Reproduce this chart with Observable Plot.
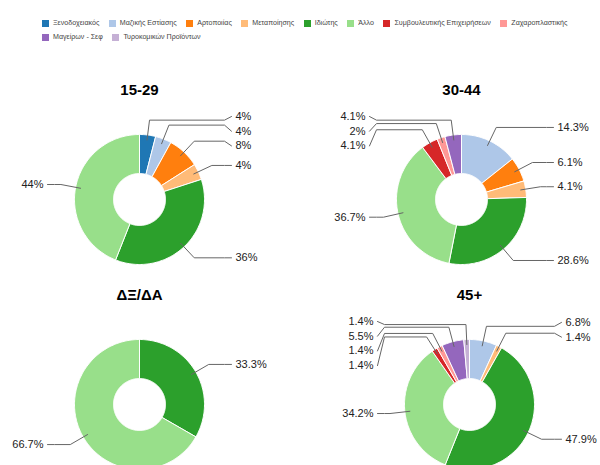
<!DOCTYPE html>
<html><head><meta charset="utf-8">
<script src="https://cdn.jsdelivr.net/npm/d3@7"></script>
<script src="https://cdn.jsdelivr.net/npm/@observablehq/plot@0.6"></script>
<style>
html,body{margin:0;padding:0;background:#fff;overflow:hidden;}
#legend{height:44px;box-sizing:border-box;padding:16px 0 0 42px;width:600px;overflow:hidden;}
#legend .lg-swatches{font-family:"Liberation Sans",Arial,sans-serif;font-size:7.1px;color:#444;margin:0;width:545px;}
#legend .lg-swatches-wrap{min-height:0;}
#legend .lg-swatch{height:14px;margin-right:9.5px;}
#legend .lg-swatch > svg{margin-right:4px;}
</style></head><body>
<div id="legend"></div><div id="chart"></div>
<script>
// ---- data ----
const categories = ["Ξενοδοχειακός","Μαζικής Εστίασης","Αρτοποιίας","Μεταποίησης","Ιδιώτης","Άλλο","Συμβουλευτικής Επιχειρήσεων","Ζαχαροπλαστικής","Μαγείρων - Σεφ","Τυροκομικών Προϊόντων"];
const colors = ["#1f77b4","#aec7e8","#ff7f0e","#ffbb78","#2ca02c","#98df8a","#d62728","#ff9896","#9467bd","#c5b0d5"];
const groups = ["15-29","30-44","ΔΞ/ΔΑ","45+"];
const values1529 = [4, 4, 8, 4, 36, 44, 0, 0, 0, 0];
const values3044 = [0, 14.3, 6.1, 4.1, 28.6, 36.7, 4.1, 2, 4.1, 0];
const valuesDXDA = [0, 0, 0, 0, 33.3, 66.7, 0, 0, 0, 0];
const values45 = [0, 6.8, 0, 1.4, 47.9, 34.2, 1.4, 1.4, 5.5, 1.4];
const series = [values1529, values3044, valuesDXDA, values45];

// ---- layout ----
const W = 600, H = 421;
const centers = [[139,155],[461,155],[139,360],[469,360]];
const R = 65, R0 = 26, RA = 60, RE = 80, SP = 14.7;
const fmt = d3.format(".1~f");

const slices = [], leaders = [], labels = [], titles = [];

function spread(list, minY, maxY, sp){
  list.sort((a,b)=>a.want-b.want);
  const cl = list.map(d=>({items:[d], sum:d.want}));
  const place = c => {
    const n = c.items.length;
    let top = c.sum/n - (n-1)*sp/2;
    top = Math.min(top, maxY-(n-1)*sp);
    top = Math.max(minY, top);
    c.top = top;
  };
  cl.forEach(place);
  let merged = true;
  while (merged) {
    merged = false;
    for (let i=0;i<cl.length-1;i++){
      const a=cl[i], b=cl[i+1];
      if (a.top+(a.items.length-1)*sp+sp > b.top){
        a.items.push(...b.items); a.sum += b.sum; place(a); cl.splice(i+1,1); merged = true; break;
      }
    }
  }
  cl.forEach(c=>c.items.forEach((d,j)=>d.y=c.top+j*sp));
}

groups.forEach((g,gi)=>{
  const vals = series[gi];
  const data = categories.map((c,i)=>({c, v: vals[i]})).filter(d=>d.v>0);
  const total = d3.sum(data, d=>d.v);
  const arcs = d3.pie().sort(null).value(d=>d.v)(data);
  const [cx,cy] = centers[gi];
  const pt = (r,a)=>[cx+r*Math.sin(a), cy-r*Math.cos(a)];
  titles.push({g, x:cx, y:cy-109});
  arcs.forEach(a=>{
    const key = g+"|"+a.data.c;
    const span = a.endAngle-a.startAngle;
    const n = Math.max(2, Math.ceil(span/0.02));
    const pts = [];
    for (let i=0;i<=n;i++) pts.push(pt(R, a.startAngle+span*i/n));
    for (let i=n;i>=0;i--) pts.push(pt(R0, a.startAngle+span*i/n));
    pts.push(pts[0]);
    pts.forEach(([x,y])=>slices.push({key, cat:a.data.c, x, y}));
  });
  const items = arcs.map(a=>{
    const m = (a.startAngle+a.endAngle)/2;
    const A = pt(RA,m), E = pt(RE,m);
    return {key:g+"|"+a.data.c, A, E, side: m<Math.PI?1:-1, want:E[1], text: fmt(a.data.v/total*100)+"%"};
  });
  [1,-1].forEach(side=>{
    const list = items.filter(d=>d.side===side);
    spread(list, cy-83, cy+150, SP);
    list.forEach(d=>{
      const lx = cx + side*(R+27);
      const pts = [d.A, d.E, [lx - side*7, d.E[1]], [lx, d.y]];
      pts.forEach(([x,y])=>leaders.push({key:d.key, x, y}));
      labels.push({text:d.text, x: lx + side*4, y:d.y, anchor: side===1?"start":"end"});
    });
  });
});

const font = "'Liberation Sans', Arial, sans-serif";
const chart = Plot.plot({
  width: W, height: H, margin: 0,
  x: {domain:[0,W], range:[0,W]},
  y: {domain:[0,H], range:[0,H]},
  axis: null,
  color: {domain: categories, range: colors},
  style: {fontFamily: font, background: "white", overflow: "hidden"},
  marks: [
    Plot.line(slices, {x:"x", y:"y", z:"key", fill:"cat", stroke:"white", strokeWidth:1}),
    Plot.line(leaders, {x:"x", y:"y", z:"key", stroke:"#666", strokeWidth:1}),
    Plot.text(labels.filter(d=>d.anchor==="start"), {x:"x", y:"y", text:"text", textAnchor:"start", fill:"#222", fontSize:11}),
    Plot.text(labels.filter(d=>d.anchor==="end"), {x:"x", y:"y", text:"text", textAnchor:"end", fill:"#222", fontSize:11}),
    Plot.text(titles, {x:"x", y:"y", text:"g", fill:"#000", fontSize:15, fontWeight:"bold"})
  ]
});
document.getElementById("chart").appendChild(chart);

const legend = Plot.legend({color:{type:"ordinal", domain: categories, range: colors}, legend:"swatches", swatchSize:7, className:"lg"});
document.getElementById("legend").appendChild(legend);
</script>
</body></html>
